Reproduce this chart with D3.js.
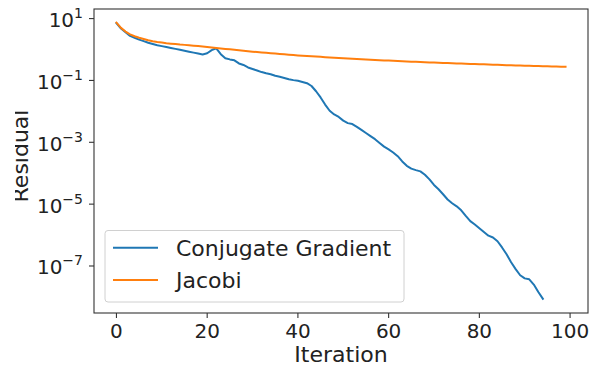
<!DOCTYPE html>
<html lang="en">
<head>
<meta charset="UTF-8">
<title>Residual vs Iteration</title>
<style>
  body { margin: 0; background: #fff; }
  svg { display: block; font-family: 'DejaVu Sans', sans-serif; }
</style>
</head>
<body>
<svg width="593" height="367"></svg>
<script src="https://d3js.org/d3.v7.min.js"></script>
<script>
// log10 of the residual, one value per iteration
const cgLog10 = [
  0.85, 0.68, 0.56, 0.44, 0.38, 0.32, 0.27, 0.22, 0.18, 0.14,
  0.11, 0.08, 0.05, 0.02, -0.01, -0.04, -0.07, -0.10, -0.13, -0.16,
  -0.12, -0.02, 0.04, -0.15, -0.28, -0.32, -0.35, -0.45, -0.50, -0.58,
  -0.63, -0.68, -0.73, -0.77, -0.80, -0.85, -0.88, -0.92, -0.96, -0.99,
  -1.01, -1.05, -1.09, -1.18, -1.35, -1.55, -1.78, -1.98, -2.10, -2.18,
  -2.30, -2.38, -2.41, -2.50, -2.60, -2.70, -2.80, -2.90, -3.02, -3.14,
  -3.23, -3.33, -3.45, -3.62, -3.76, -3.85, -3.90, -3.94, -4.05, -4.20,
  -4.38, -4.52, -4.68, -4.85, -4.97, -5.07, -5.20, -5.38, -5.55, -5.66,
  -5.78, -5.90, -6.02, -6.08, -6.20, -6.40, -6.62, -6.88, -7.10, -7.30,
  -7.40, -7.43, -7.60, -7.84, -8.06
];
const jacobiLog10 = [
  0.87, 0.70, 0.58, 0.49, 0.43, 0.38, 0.34, 0.30, 0.27, 0.245,
  0.225, 0.205, 0.19, 0.175, 0.16, 0.15, 0.14, 0.125, 0.11, 0.095,
  0.08, 0.065, 0.05, 0.035, 0.02, 0.005, -0.01, -0.025, -0.04, -0.055,
  -0.07, -0.083, -0.096, -0.108, -0.12, -0.132, -0.144, -0.156, -0.168, -0.18,
  -0.19, -0.20, -0.21, -0.22, -0.229, -0.238, -0.247, -0.256, -0.265, -0.273,
  -0.281, -0.289, -0.297, -0.305, -0.313, -0.321, -0.329, -0.337, -0.345, -0.352,
  -0.359, -0.366, -0.373, -0.38, -0.386, -0.392, -0.398, -0.404, -0.41, -0.416,
  -0.422, -0.428, -0.434, -0.44, -0.445, -0.45, -0.455, -0.46, -0.465, -0.47,
  -0.475, -0.48, -0.485, -0.49, -0.495, -0.50, -0.505, -0.51, -0.515, -0.52,
  -0.525, -0.529, -0.533, -0.537, -0.541, -0.545, -0.549, -0.552, -0.555, -0.558
];
const seriesNames = ["Conjugate Gradient", "Jacobi"];
const seriesColors = ["#1f77b4", "#ff7f0e"];
const xTicks = [0, 20, 40, 60, 80, 100];
const yTickExps = [1, -1, -3, -5, -7];

const svg = d3.select("svg");
const plotLeft = 94, plotRight = 588, plotTop = 9, plotBottom = 313;
const tickSize = 20, labelSize = 22;

const x = d3.scaleLinear().domain([-4.95, 103.95]).range([plotLeft, plotRight]);
const y = d3.scaleLog().domain([Math.pow(10, -8.52), Math.pow(10, 1.31)]).range([plotBottom, plotTop]);

const series = [cgLog10, jacobiLog10].map((vals, i) => ({
  name: seriesNames[i],
  color: seriesColors[i],
  points: vals.map((v, k) => [k, Math.pow(10, v)])
}));

const line = d3.line().x(d => x(d[0])).y(d => y(d[1]));

svg.append("g").selectAll("path")
  .data(series)
  .join("path")
    .attr("d", d => line(d.points))
    .attr("fill", "none")
    .attr("stroke", d => d.color)
    .attr("stroke-width", 2)
    .attr("stroke-linejoin", "round")
    .attr("stroke-linecap", "square");

// frame
svg.append("rect")
  .attr("x", plotLeft).attr("y", plotTop)
  .attr("width", plotRight - plotLeft).attr("height", plotBottom - plotTop)
  .attr("fill", "none").attr("stroke", "#333").attr("stroke-width", 1.1);

// x axis ticks
const xg = svg.append("g");
xTicks.forEach(t => {
  xg.append("line")
    .attr("x1", x(t)).attr("x2", x(t))
    .attr("y1", plotBottom).attr("y2", plotBottom + 5)
    .attr("stroke", "#333").attr("stroke-width", 1.1);
  xg.append("text")
    .attr("x", x(t)).attr("y", 337.5)
    .attr("text-anchor", "middle")
    .attr("font-size", tickSize).attr("fill", "#222")
    .text(t);
});

// y axis ticks, 10^n labels
const yg = svg.append("g");
yTickExps.forEach(e => {
  const py = y(Math.pow(10, e));
  yg.append("line")
    .attr("x1", plotLeft - 5).attr("x2", plotLeft)
    .attr("y1", py).attr("y2", py)
    .attr("stroke", "#333").attr("stroke-width", 1.1);
  const txt = yg.append("text")
    .attr("x", 83).attr("y", py + 8.5)
    .attr("text-anchor", "end")
    .attr("font-size", tickSize).attr("fill", "#222");
  txt.append("tspan").text("10");
  txt.append("tspan")
    .attr("dy", -9).attr("font-size", 14)
    .text(e < 0 ? "\u2212" + Math.abs(e) : String(e));
});

// axis labels
svg.append("text")
  .attr("x", (plotLeft + plotRight) / 2).attr("y", 361.5)
  .attr("text-anchor", "middle")
  .attr("font-size", labelSize).attr("fill", "#222")
  .text("Iteration");

// the y label is cut off at the left edge in the original figure
svg.append("clipPath").attr("id", "ylabel-clip")
  .append("rect").attr("x", 15).attr("y", 0).attr("width", 40).attr("height", 367);

svg.append("g")
  .attr("clip-path", "url(#ylabel-clip)")
  .append("text")
    .attr("transform", "translate(27.5,156) rotate(-90)")
    .attr("text-anchor", "middle")
    .attr("font-size", labelSize).attr("fill", "#222")
    .text("Residual");

// legend
const lg = svg.append("g");
lg.append("rect")
  .attr("x", 105).attr("y", 230.5)
  .attr("width", 299).attr("height", 71.5)
  .attr("rx", 3)
  .attr("fill", "rgba(255,255,255,0.8)")
  .attr("stroke", "#d0d0d0").attr("stroke-width", 1);

const legendY = [247.7, 280];
series.forEach((s, i) => {
  lg.append("line")
    .attr("x1", 113).attr("x2", 158)
    .attr("y1", legendY[i]).attr("y2", legendY[i])
    .attr("stroke", s.color).attr("stroke-width", 2);
  lg.append("text")
    .attr("x", 176).attr("y", legendY[i] + 8)
    .attr("font-size", labelSize).attr("fill", "#222")
    .text(s.name);
});
</script>
</body>
</html>
